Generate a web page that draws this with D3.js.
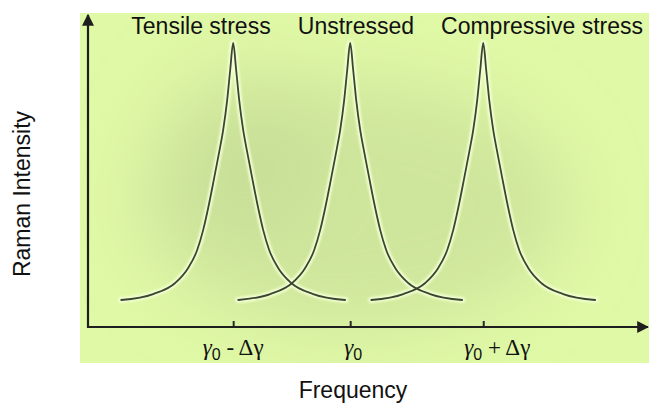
<!DOCTYPE html>
<html>
<head>
<meta charset="utf-8">
<script src="https://cdn.jsdelivr.net/npm/d3@7"></script>
<style>
  html, body { margin: 0; padding: 0; background: #fff; }
  svg { display: block; font-family: "Liberation Sans", Arial, sans-serif; }
</style>
</head>
<body>
<svg id="chart"></svg>
<script>
// peak positions on the frequency axis (arbitrary units, 0..100)
const peakNames = ['Tensile stress', 'Unstressed', 'Compressive stress'];
const peakCenters = [26.3, 47.5, 71.6];
// one half of the peak profile (offset from centre, intensity)
const profileOffset = [0, 0.54, 1.09, 1.81, 2.54, 3.44, 4.53, 5.43, 6.52, 8.15, 10.51, 14.49, 20.29];
const profileIntensity = [1.0, 0.905, 0.799, 0.694, 0.616, 0.525, 0.419, 0.342, 0.271, 0.208, 0.155, 0.116, 0.095];
// tick labels: [main, subscript, rest]
const tickParts = [['γ', '0', ' - Δγ'], ['γ', '0', ''], ['γ', '0', ' + Δγ']];

(function(){
    const W = 649, H = 404;
    const svg = d3.select('#chart').attr('width', W).attr('height', H);

    const x = d3.scaleLinear().domain([0, 100]).range([88, 640]);
    const y = d3.scaleLinear().domain([0, 1]).range([327, 43]);

    const defs = svg.append('defs');
    defs.append('filter').attr('id', 'blur').attr('x', '-50%').attr('y', '-50%').attr('width', '200%').attr('height', '200%')
        .append('feGaussianBlur').attr('stdDeviation', 38);
    defs.append('filter').attr('id', 'soft')
        .append('feGaussianBlur').attr('stdDeviation', 1.2);
    defs.append('marker').attr('id', 'arrow').attr('viewBox', '0 0 10 10')
        .attr('refX', 9).attr('refY', 5).attr('markerWidth', 16).attr('markerHeight', 12)
        .attr('markerUnits', 'userSpaceOnUse').attr('orient', 'auto')
        .append('path').attr('d', 'M0,0 L10,5 L0,10 z').attr('fill', '#1e1e1e');
    defs.append('clipPath').attr('id', 'panel').append('rect')
        .attr('x', 80).attr('y', 13).attr('width', 569).attr('height', 350);

    // --- background panel ---
    svg.append('rect').attr('x', 80).attr('y', 13).attr('width', 569).attr('height', 350).attr('fill', '#e0f9a6');
    const shade = svg.append('g').attr('clip-path', 'url(#panel)')
        .append('g').attr('filter', 'url(#blur)');
    shade.append('ellipse').attr('cx', 355).attr('cy', 205).attr('rx', 215).attr('ry', 125)
        .attr('fill', '#b6cb8e').attr('opacity', 0.42);
    shade.append('ellipse').attr('cx', 240).attr('cy', 150).attr('rx', 80).attr('ry', 90)
        .attr('fill', '#b8cd8f').attr('opacity', 0.3);

    // --- peaks ---
    const line = d3.line().x(d => x(d[0])).y(d => y(d[1])).curve(d3.curveMonotoneX);
    const peaks = peakCenters.map(c => {
        const left = profileOffset.map((o, i) => [c - o, profileIntensity[i]]).reverse();
        const right = profileOffset.slice(1).map((o, i) => [c + o, profileIntensity[i + 1]]);
        return left.concat(right);
    });

    const pg = svg.append('g');
    pg.selectAll('path.halo').data(peaks).join('path').attr('class', 'halo')
        .attr('fill', 'none').attr('stroke', '#f2ffd0').attr('stroke-width', 6)
        .attr('stroke-linecap', 'round').attr('filter', 'url(#soft)').attr('d', line);
    pg.selectAll('path.peak').data(peaks).join('path').attr('class', 'peak')
        .attr('fill', 'none').attr('stroke', '#3b4632').attr('stroke-width', 1.8)
        .attr('stroke-linecap', 'round').attr('d', line);

    // --- axes ---
    const xAxis = svg.append('g').attr('transform', `translate(0,${y(0)})`)
        .call(d3.axisBottom(x).tickValues(peakCenters).tickSize(-6).tickSizeOuter(0).tickFormat(''));
    xAxis.select('.domain').remove();
    xAxis.selectAll('.tick line').attr('stroke', '#2a2a2a').attr('stroke-width', 2);

    svg.append('line').attr('x1', x(0) - 1).attr('y1', y(0)).attr('x2', 648).attr('y2', y(0))
        .attr('stroke', '#1e1e1e').attr('stroke-width', 2.2).attr('marker-end', 'url(#arrow)');
    svg.append('line').attr('x1', x(0)).attr('y1', y(0) + 1).attr('x2', x(0)).attr('y2', 15)
        .attr('stroke', '#1e1e1e').attr('stroke-width', 2.2).attr('marker-end', 'url(#arrow)');

    // --- tick labels ---
    const tickShift = [0, 3, 14];
    const tl = svg.append('g').selectAll('text').data(tickParts).join('text')
        .attr('x', (d, i) => x(peakCenters[i]) + tickShift[i])
        .attr('y', 355).attr('text-anchor', 'middle')
        .style('font-size', '23px').style('fill', '#111');
    tl.append('tspan').style('font-family', '"Liberation Serif", serif').style('font-style', 'italic').text(d => d[0]);
    tl.append('tspan').attr('dy', 5).style('font-size', '16px').text(d => d[1]);
    tl.append('tspan').attr('dy', -5).style('font-family', '"Liberation Serif", serif').text(d => d[2]);

    // --- peak names ---
    const nameX = [201, 356, 542];
    svg.append('g').selectAll('text').data(peakNames).join('text')
        .attr('x', (d, i) => nameX[i]).attr('y', 34).attr('text-anchor', 'middle')
        .style('font-size', '23px').style('fill', '#111').text(d => d);

    // --- axis titles ---
    svg.append('text').attr('x', 353).attr('y', 398).attr('text-anchor', 'middle')
        .style('font-size', '23px').style('fill', '#111').text('Frequency');
    svg.append('text').attr('transform', 'translate(30,194) rotate(-90)').attr('text-anchor', 'middle')
        .style('font-size', '23px').style('fill', '#111').text('Raman Intensity');
})();
</script>
</body>
</html>
